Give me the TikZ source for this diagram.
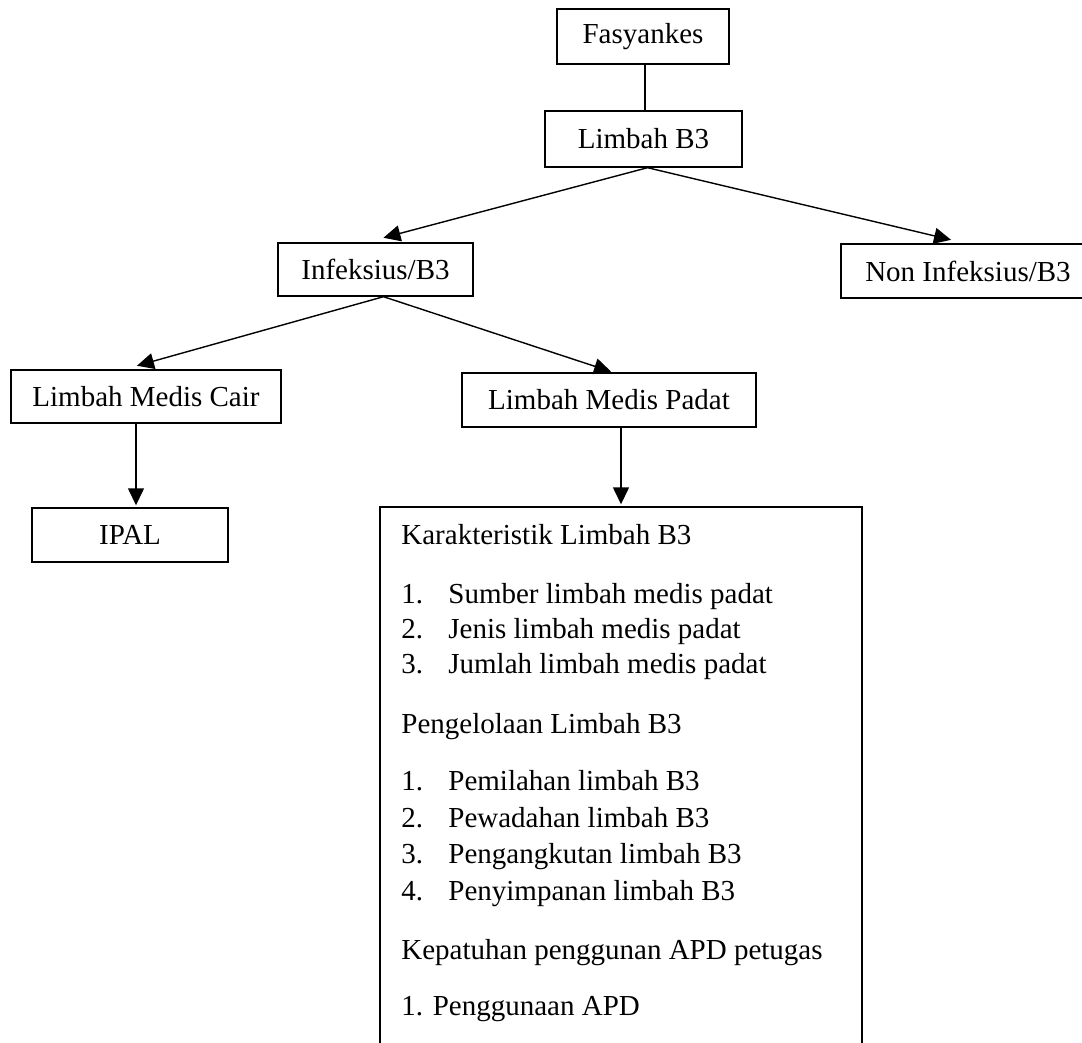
\documentclass[tikz,border=0pt]{standalone}
\usepackage{fontspec}
\setmainfont{Liberation Serif}
\usetikzlibrary{arrows.meta}

\begin{document}
\begin{tikzpicture}[x=.5pt,y=-.5pt,
  box/.style={draw, line width=.7pt, inner sep=0pt, font=\fontsize{14.5}{17}\selectfont},
  txt/.style={anchor=base west, inner sep=0pt, font=\fontsize{14.5}{17}\selectfont},
  arr/.style={line width=.7pt, shorten >=1pt, -{Triangle[length=8.5pt,width=8pt]}}]
\useasboundingbox (0,0) rectangle (1082,1043);

\node (fas) at (643,36.5) [box, minimum width=86pt, minimum height=27.5pt] {Fasyankes};
\node (lb3) at (643.5,139) [box, minimum width=98.5pt, minimum height=28pt] {Limbah B3};
\node (inf) at (375.5,269.5) [box, minimum width=97.5pt, minimum height=26.5pt] {Infeksius/B3};
\node (noninf) at (968,271) [box, minimum width=127pt, minimum height=27pt] {Non Infeksius/B3};
\node (cair) at (146,396.5) [box, minimum width=135pt, minimum height=26.5pt] {Limbah Medis Cair};
\node (padat) at (609,400) [box, minimum width=147pt, minimum height=27pt] {Limbah Medis Padat};
\node (ipal) at (130,535) [box, minimum width=98pt, minimum height=27pt] {IPAL};
\node (karakt) at (621,783.5) [box, minimum width=241pt, minimum height=276.5pt] {};

\node (k1) at (401,544) [txt] {Karakteristik Limbah B3};
\node (k1a) at (401,603) [txt] {1.};
\node (k1at) at (448,603) [txt] {Sumber limbah medis padat};
\node (k1b) at (401,638) [txt] {2.};
\node (k1bt) at (448,638) [txt] {Jenis limbah medis padat};
\node (k1c) at (401,673) [txt] {3.};
\node (k1ct) at (448,673) [txt] {Jumlah limbah medis padat};
\node (k2) at (401,733) [txt] {Pengelolaan Limbah B3};
\node (k2a) at (401,790) [txt] {1.};
\node (k2at) at (448,790) [txt] {Pemilahan limbah B3};
\node (k2b) at (401,827) [txt] {2.};
\node (k2bt) at (448,827) [txt] {Pewadahan limbah B3};
\node (k2c) at (401,863) [txt] {3.};
\node (k2ct) at (448,863) [txt] {Pengangkutan limbah B3};
\node (k2d) at (401,900) [txt] {4.};
\node (k2dt) at (448,900) [txt] {Penyimpanan limbah B3};
\node (k3) at (401,959) [txt] {Kepatuhan penggunan APD petugas};
\node (k3a) at (401,1015) [txt] {1. Penggunaan APD};

\draw[line width=.7pt] ([xshift=1pt]fas.south) -- ([xshift=1pt]fas.south |- lb3.north);
\draw[arr] ([xshift=2pt]lb3.south) -- ([xshift=3pt,yshift=2pt]inf.north);
\draw[arr] ([xshift=2pt]lb3.south) -- ([xshift=-7.5pt,yshift=1.5pt]noninf.north);
\draw[arr] ([xshift=4pt]inf.south) -- ([xshift=-5.5pt,yshift=1.5pt]cair.north);
\draw[arr] ([xshift=4pt]inf.south) -- ([xshift=2pt]padat.north);
\draw[arr] ([xshift=-5pt]cair.south) -- ([xshift=-5pt]cair.south |- ipal.north);
\draw[arr] (karakt.north |- padat.south) -- (karakt.north);
\end{tikzpicture}
\end{document}
